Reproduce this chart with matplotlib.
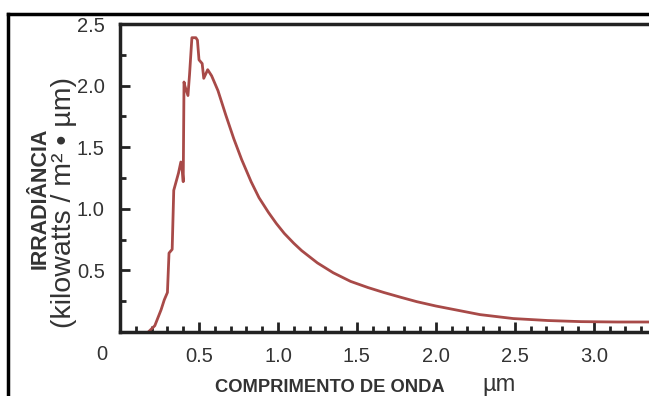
import matplotlib.pyplot as plt
from matplotlib.lines import Line2D
from matplotlib.ticker import MultipleLocator

# wavelength (um) and irradiance (kW / m2 um)
wavelength = [0.18, 0.22, 0.26, 0.28, 0.30, 0.31, 0.33, 0.34, 0.355, 0.37, 0.385,
              0.395, 0.40, 0.405, 0.41, 0.43, 0.44, 0.455, 0.48, 0.49, 0.50,
              0.52, 0.53, 0.555, 0.58, 0.62, 0.67, 0.72, 0.77, 0.83, 0.88,
              0.94, 0.99, 1.04, 1.10, 1.15, 1.20, 1.25, 1.35, 1.46, 1.57,
              1.67, 1.78, 1.88, 2.00, 2.12, 2.28, 2.49, 2.71, 2.92, 3.15, 3.40]
irradiance = [0.0, 0.05, 0.18, 0.26, 0.32, 0.64, 0.67, 1.15, 1.22, 1.29, 1.38,
              1.30, 1.22, 2.03, 2.00, 1.92, 2.09, 2.39, 2.39, 2.37, 2.21,
              2.18, 2.06, 2.13, 2.08, 1.96, 1.76, 1.57, 1.40, 1.22, 1.09,
              0.97, 0.88, 0.80, 0.72, 0.66, 0.61, 0.56, 0.48, 0.41, 0.36,
              0.32, 0.28, 0.245, 0.21, 0.18, 0.14, 0.108, 0.092, 0.083, 0.08, 0.08]

x_ticks = [0.5, 1.0, 1.5, 2.0, 2.5, 3.0]
y_ticks = [0.5, 1.0, 1.5, 2.0, 2.5]

fig = plt.figure(figsize=(6.49, 3.96), dpi=100)
plt.rcParams['font.family'] = ['Liberation Sans', 'DejaVu Sans']

ax = fig.add_axes([0.185, 0.162, 0.815, 0.777])
ax.plot(wavelength, irradiance, color='#a84a48', lw=2)

ax.set_xlim(0, 3.35)
ax.set_ylim(0, 2.5)
ax.set_xticks(x_ticks)
ax.set_xticklabels([f"{v:.1f}" for v in x_ticks])
ax.set_yticks(y_ticks)
ax.set_yticklabels([f"{v:.1f}" for v in y_ticks])
ax.xaxis.set_minor_locator(MultipleLocator(0.1))
ax.yaxis.set_minor_locator(MultipleLocator(0.25))
ax.tick_params(which='both', direction='in', colors='#222222', width=2)
ax.tick_params(which='major', length=7, labelsize=14.5, labelcolor='#333333')
ax.tick_params(which='minor', length=4)
ax.tick_params(axis='x', pad=11)
ax.tick_params(axis='y', pad=11)

for side in ['left', 'bottom', 'top']:
    ax.spines[side].set_linewidth(2.5)
    ax.spines[side].set_color('#222222')
ax.spines['right'].set_visible(False)

# corner zero
fig.text(102 / 649, 1 - 355 / 396, '0', fontsize=14.5, color='#333333',
         ha='center', va='center')

# axis titles
fig.text(330 / 649, 1 - 388 / 396, 'COMPRIMENTO DE ONDA', fontsize=13.2,
         fontweight='bold', color='#333333', ha='center', va='center')
fig.text(499 / 649, 1 - 385 / 396, 'µm', fontsize=17, color='#333333',
         ha='center', va='center')
fig.text(40 / 649, 1 - 198 / 396, 'IRRADIÂNCIA', fontsize=15.5,
         fontweight='bold', color='#333333', rotation=90, ha='center', va='center')
fig.text(64 / 649, 1 - 202 / 396, '(kilowatts / m² • µm)', fontsize=20.5,
         color='#333333', rotation=90, ha='center', va='center')

# outer frame
fig.add_artist(Line2D([8 / 649, 1.0], [1 - 14 / 396] * 2, color='black', lw=2.5,
                      transform=fig.transFigure))
fig.add_artist(Line2D([8 / 649] * 2, [0.0, 1 - 14 / 396], color='black', lw=2.5,
                      transform=fig.transFigure))

fig.savefig('out.png', dpi=100)
